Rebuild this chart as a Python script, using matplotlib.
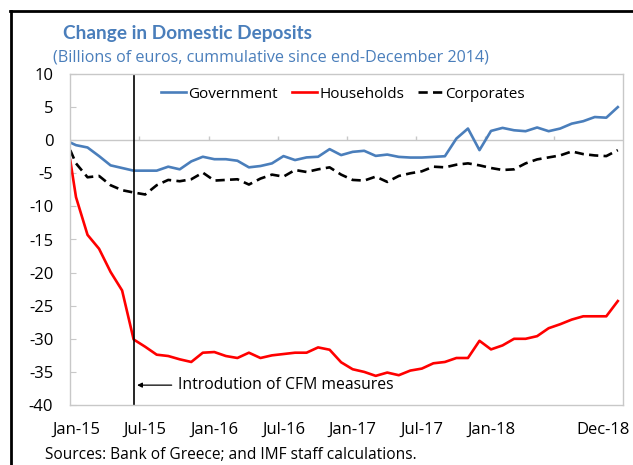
import matplotlib
matplotlib.use("Agg")
import matplotlib.pyplot as plt
from matplotlib.lines import Line2D
from matplotlib.transforms import ScaledTranslation

plt.rcParams['font.family'] = ['Open Sans', 'DejaVu Sans']

# x positions in months since Jan-15 (first observation sits just before Jan-15)
months = [-0.5] + list(range(48))

government = [-0.35, -0.75, -1.1, -2.4, -3.8, -4.2, -4.6, -4.6, -4.6, -4.0, -4.4, -3.2,
              -2.5, -2.87, -2.87, -3.1, -4.1, -3.9, -3.5, -2.4, -3.0, -2.6, -2.5, -1.35,
              -2.25, -1.76, -1.6, -2.37, -2.17, -2.52, -2.62, -2.62, -2.52, -2.42, 0.25, 1.76,
              -1.5, 1.4, 1.86, 1.5, 1.36, 1.92, 1.36, 1.76, 2.5, 2.87, 3.5, 3.4, 5.0]
households = [-3.0, -8.6, -14.3, -16.4, -19.9, -22.7, -30.1, -31.2, -32.4, -32.6, -33.1, -33.5,
              -32.1, -32.0, -32.6, -32.9, -32.1, -32.9, -32.5, -32.3, -32.1, -32.1, -31.3, -31.65,
              -33.55, -34.6, -35.0, -35.6, -35.1, -35.5, -34.8, -34.5, -33.7, -33.5, -32.9, -32.9,
              -30.3, -31.6, -31.0, -30.0, -30.0, -29.6, -28.4, -27.8, -27.1, -26.6, -26.6, -26.6, -24.3]
corporates = [-1.5, -3.5, -5.6, -5.4, -6.8, -7.55, -7.9, -8.2, -6.8, -6.0, -6.2, -5.9,
              -4.9, -6.1, -6.0, -5.9, -6.7, -5.8, -5.2, -5.5, -4.5, -4.8, -4.4, -4.1,
              -5.2, -6.0, -6.1, -5.5, -6.3, -5.4, -5.0, -4.7, -4.0, -4.1, -3.7, -3.5,
              -3.8, -4.2, -4.5, -4.4, -3.5, -2.9, -2.6, -2.3, -1.7, -2.1, -2.3, -2.4, -1.5]

tick_pos = [0, 6, 12, 18, 24, 30, 36, 47]
tick_labels = ['Jan-15', 'Jul-15', 'Jan-16', 'Jul-16', 'Jan-17', 'Jul-17', 'Jan-18', 'Dec-18']
yticks = [10, 5, 0, -5, -10, -15, -20, -25, -30, -35, -40]
ytick_labels = ['10', '5', '0', '-5', '-10', '-15', '-20', '-25', '-30', '-35', '-40']
boundaries = [5.5, 11.5, 17.5, 23.5, 29.5, 35.5, 41.5]
cfm_month = 5

blue = '#4A7EBB'
grey = '#C8C8C8'

fig = plt.figure(figsize=(6.33, 4.65), dpi=100)
ax = fig.add_axes([70/633, 1-405/465, (623-70)/633, (405-74)/465])

ax.plot(months, government, color=blue, lw=1.9, label='Government')
ax.plot(months, households, color='#FF0000', lw=1.9, label='Households')
ax.plot(months, corporates, color='black', lw=1.9, ls=(0, (3.5, 2)), label='Corporates')

ax.set_xlim(-0.52, 47.45)
ax.set_ylim(-40, 10)

# zero axis line with category-boundary ticks
ax.axhline(0, color=grey, lw=1.0, zorder=0)
ax.vlines(boundaries, 0, 0.65, color=grey, lw=1.0, zorder=0)

# CFM line and annotation
ax.axvline(cfm_month, color='black', lw=1.2)
ax.annotate('', xy=(5.3, -37.0), xytext=(8.3, -37.0),
            arrowprops=dict(arrowstyle='-|>', color='black', lw=0.9,
                            mutation_scale=7, shrinkA=0, shrinkB=0))
ax.text(8.85, -37.0, 'Introdution of CFM measures', fontsize=11.3, va='center', ha='left')

for s in ax.spines.values():
    s.set_color(grey)
    s.set_linewidth(1.0)

ax.set_yticks(yticks)
ax.set_yticklabels(ytick_labels, fontsize=12)
ax.tick_params(axis='y', direction='in', length=4, color=grey, pad=12)
ax.set_xticks(tick_pos)
ax.set_xticklabels(tick_labels, fontsize=12)
ax.tick_params(axis='x', length=0, pad=12)
lbls = ax.get_xticklabels()
lbls[-1].set_transform(lbls[-1].get_transform() + ScaledTranslation(-15/100, 0, fig.dpi_scale_trans))

leg = ax.legend(loc='upper center', bbox_to_anchor=(0.494, 1.003), ncol=3, frameon=False,
                fontsize=11, handlelength=1.65, handletextpad=0.15, columnspacing=0.9)

fig.text(63/633, 1-33/465, 'Change in Domestic Deposits', fontsize=13.7, fontweight='bold',
         color=blue, ha='left', va='center', family=['Lato', 'DejaVu Sans'])
fig.text(53/633, 1-57/465, '(Billions of euros, cummulative since end-December 2014)',
         fontsize=11.6, color=blue, ha='left', va='center')
fig.text(45/633, 1-455/465, 'Sources: Bank of Greece; and IMF staff calculations.',
         fontsize=11.2, ha='left', va='center')

fig.add_artist(Line2D([10/633, 1], [1-11/465, 1-11/465], color='black', lw=2))
fig.add_artist(Line2D([11/633, 11/633], [0, 1-11/465], color='black', lw=2))

fig.savefig('out.png', dpi=100)
